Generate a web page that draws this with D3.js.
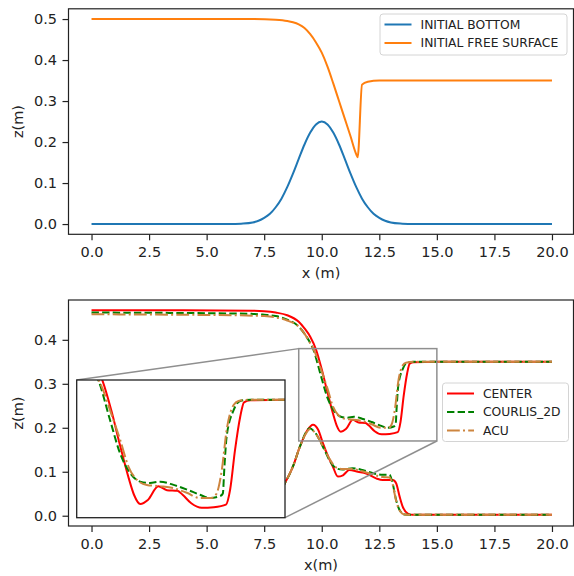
<!DOCTYPE html>
<html><head><meta charset="utf-8">
<script src="https://cdn.jsdelivr.net/npm/d3@7"></script>
<style>body{margin:0;background:#fff;} svg{display:block;font-family:"DejaVu Sans",sans-serif;}</style>
</head><body><svg id="c" width="574" height="576"></svg>
<script>
// ---------- data ----------
const xTicks = [0, 2.5, 5, 7.5, 10, 12.5, 15, 17.5, 20];
const topYTicks = [0, 0.1, 0.2, 0.3, 0.4, 0.5];
const bottomYTicks = [0, 0.1, 0.2, 0.3, 0.4];
const topSeriesNames = ["INITIAL BOTTOM", "INITIAL FREE SURFACE"];
const bottomSeriesNames = ["CENTER", "COURLIS_2D", "ACU"];
const zoomXRange = [9, 15];
const zoomZRange = [0.17, 0.38];

const initBedX = [0, 5, 6, 6.5, 7, 7.25, 7.5, 7.75, 8, 8.25, 8.5, 8.75, 9, 9.25, 9.5, 9.75, 10, 10.25, 10.5, 10.75, 11, 11.25, 11.5, 11.75, 12, 12.25, 12.5, 12.75, 13, 13.5, 14, 15, 20];
const initBedZ = [0, 0, 0, 0.001, 0.004, 0.008, 0.015, 0.025, 0.041, 0.062, 0.090, 0.123, 0.159, 0.194, 0.223, 0.243, 0.25, 0.243, 0.223, 0.194, 0.159, 0.123, 0.090, 0.062, 0.041, 0.025, 0.015, 0.008, 0.004, 0.001, 0, 0, 0];
const initSurfX = [0, 7, 8, 8.5, 8.75, 9, 9.25, 9.5, 9.75, 10, 10.25, 10.5, 10.75, 11, 11.25, 11.5, 11.56, 11.75, 12, 12.5, 20];
const initSurfZ = [0.5, 0.5, 0.498, 0.495, 0.492, 0.487, 0.478, 0.463, 0.443, 0.418, 0.384, 0.343, 0.3, 0.257, 0.214, 0.17, 0.163, 0.34, 0.347, 0.35, 0.35];

const centerSurfX = [0, 4, 7, 7.5, 8, 8.5, 9, 9.25, 9.5, 9.75, 10, 10.25, 10.5, 10.65, 10.83, 11.05, 11.35, 11.6, 11.9, 12.05, 12.3, 12.6, 12.95, 13.3, 13.42, 13.56, 13.71, 13.82, 14, 15, 20];
const centerSurfZ = [0.467, 0.467, 0.466, 0.465, 0.462, 0.456, 0.441, 0.426, 0.407, 0.378, 0.333, 0.28, 0.23, 0.205, 0.191, 0.197, 0.218, 0.212, 0.211, 0.205, 0.192, 0.185, 0.186, 0.19, 0.213, 0.273, 0.324, 0.346, 0.349, 0.35, 0.35];
const centerBedX = [0, 6.5, 7, 7.5, 8, 8.4, 8.75, 9.05, 9.38, 9.62, 9.85, 10.05, 10.3, 10.48, 10.7, 10.92, 11.2, 11.57, 11.93, 12.36, 12.65, 13.09, 13.23, 13.38, 13.52, 13.74, 13.95, 15, 20];
const centerBedZ = [0.002, 0.002, 0.006, 0.018, 0.04, 0.074, 0.112, 0.157, 0.195, 0.207, 0.195, 0.165, 0.132, 0.112, 0.089, 0.092, 0.104, 0.1, 0.096, 0.085, 0.081, 0.081, 0.074, 0.044, 0.02, 0.005, 0.002, 0.002, 0.002];

const courlisSurfX = [0, 4, 7, 7.5, 8, 8.5, 9, 9.25, 9.5, 9.62, 9.96, 10.25, 10.54, 10.83, 11.11, 11.4, 11.79, 12.17, 12.55, 12.84, 13.13, 13.21, 13.25, 13.32, 13.52, 13.71, 14, 15, 20];
const courlisSurfZ = [0.462, 0.461, 0.459, 0.457, 0.454, 0.446, 0.43, 0.414, 0.393, 0.38, 0.319, 0.268, 0.238, 0.225, 0.223, 0.225, 0.22, 0.213, 0.205, 0.2, 0.203, 0.207, 0.243, 0.294, 0.334, 0.348, 0.35, 0.35, 0.35];
const courlisBedX = [0, 6.5, 7, 7.5, 8, 8.4, 8.75, 9.05, 9.3, 9.47, 9.7, 10.05, 10.33, 10.62, 10.9, 11.34, 11.77, 12.2, 12.65, 12.94, 13.06, 13.23, 13.38, 13.6, 14, 20];
const courlisBedZ = [0.002, 0.002, 0.006, 0.018, 0.04, 0.074, 0.112, 0.157, 0.188, 0.199, 0.19, 0.157, 0.127, 0.108, 0.105, 0.108, 0.104, 0.097, 0.093, 0.093, 0.078, 0.036, 0.013, 0.003, 0.002, 0.002];

const acuSurfX = [0, 4, 7, 7.5, 8, 8.5, 9, 9.25, 9.5, 9.72, 9.96, 10.25, 10.49, 10.73, 11.02, 11.4, 11.79, 12.17, 12.55, 12.89, 13.03, 13.18, 13.32, 13.52, 13.66, 14, 15, 20];
const acuSurfZ = [0.458, 0.457, 0.455, 0.454, 0.451, 0.444, 0.43, 0.414, 0.392, 0.37, 0.334, 0.289, 0.248, 0.228, 0.22, 0.218, 0.215, 0.208, 0.2, 0.2, 0.207, 0.243, 0.304, 0.342, 0.348, 0.35, 0.35, 0.35];
const acuBedX = [0, 6.5, 7, 7.5, 8, 8.4, 8.75, 9.05, 9.3, 9.5, 9.72, 10.05, 10.33, 10.62, 10.9, 11.34, 11.77, 12.2, 12.65, 12.94, 13.06, 13.23, 13.38, 13.6, 14, 20];
const acuBedZ = [0.002, 0.002, 0.006, 0.018, 0.04, 0.074, 0.112, 0.157, 0.186, 0.197, 0.188, 0.158, 0.13, 0.11, 0.106, 0.106, 0.101, 0.094, 0.088, 0.087, 0.075, 0.034, 0.012, 0.003, 0.002, 0.002];

// ---------- styles ----------
const FONT = '"DejaVu Sans", sans-serif';
const TICK_FS = 14.5, LABEL_FS = 14.5, LEG_FS = 12.3;
const INK = "#222";
const topStyles = [
  {color: "#1f77b4", dash: null, width: 2},
  {color: "#ff7f0e", dash: null, width: 2}
];
const botStyles = [
  {color: "#ff0000", dash: null, width: 2},
  {color: "#008000", dash: "7.4,3.2", width: 2},
  {color: "#cd853f", dash: "12.8,3.2,2,3.2", width: 2}
];

const svg = d3.select("#c");
const zip = (xs, zs) => xs.map((x, i) => [x, zs[i]]);

function axesFrame(g, x, y, yTicks, box) {
  const fmt = d3.format(".1f");
  const ax = g.append("g").attr("transform", `translate(0,${box.bottom})`)
    .call(d3.axisBottom(x).tickValues(xTicks).tickFormat(fmt).tickSize(6).tickPadding(6.5).tickSizeOuter(0));
  const ay = g.append("g").attr("transform", `translate(${box.left},0)`)
    .call(d3.axisLeft(y).tickValues(yTicks).tickFormat(fmt).tickSize(6).tickPadding(5.5).tickSizeOuter(0));
  [ax, ay].forEach(a => {
    a.select(".domain").remove();
    a.selectAll("line").attr("stroke", INK).attr("stroke-width", 1.2);
    a.selectAll("text").attr("font-size", TICK_FS).attr("font-family", FONT).attr("fill", INK);
  });
}
function drawFrame(g, box, color, w) {
  g.append("rect").attr("x", box.left).attr("y", box.top)
    .attr("width", box.right - box.left).attr("height", box.bottom - box.top)
    .attr("fill", "none").attr("stroke", color).attr("stroke-width", w);
}
function drawLine(g, data, x, y, st, clip) {
  const line = d3.line().x(d => x(d[0])).y(d => y(d[1])).curve(d3.curveMonotoneX);
  const p = g.append("path").datum(data).attr("d", line).attr("fill", "none")
    .attr("stroke", st.color).attr("stroke-width", st.width)
    .attr("stroke-linejoin", "round");
  if (st.dash) p.attr("stroke-dasharray", st.dash);
  if (clip) p.attr("clip-path", `url(#${clip})`);
  return p;
}
function legend(g, box, names, styles) {
  g.append("rect").attr("x", box.x).attr("y", box.y).attr("width", box.w).attr("height", box.h)
    .attr("rx", 3).attr("fill", "#fff").attr("fill-opacity", 0.85)
    .attr("stroke", "#d4d4d4").attr("stroke-width", 1);
  names.forEach((n, i) => {
    const yy = box.y + box.first + i * box.step;
    const st = styles[i];
    const l = g.append("line").attr("x1", box.x + 4.5).attr("x2", box.x + 31.5)
      .attr("y1", yy).attr("y2", yy).attr("stroke", st.color).attr("stroke-width", st.width);
    if (st.dash) l.attr("stroke-dasharray", st.dash);
    g.append("text").attr("x", box.x + 40.5).attr("y", yy).attr("dy", "0.36em")
      .attr("font-size", LEG_FS).attr("font-family", FONT).attr("fill", INK).text(n);
  });
}

// ---------- top chart ----------
const topBox = {left: 68.5, right: 573.5, top: 8.8, bottom: 234.3};
const topX = d3.scaleLinear().domain([-1, 21]).range([68.5, 575]);
const topY = d3.scaleLinear().domain([-0.025, 0.525]).range([topBox.bottom, topBox.top]);
const gTop = svg.append("g");
drawLine(gTop, zip(initBedX, initBedZ), topX, topY, topStyles[0]);
drawLine(gTop, zip(initSurfX, initSurfZ), topX, topY, topStyles[1]);
axesFrame(gTop, topX, topY, topYTicks, topBox);
drawFrame(gTop, topBox, INK, 1.2);
legend(gTop, {x: 380, y: 14, w: 187, h: 41, first: 10.5, step: 18.5}, topSeriesNames, topStyles);
gTop.append("text").attr("x", 321).attr("y", 273).attr("dy", "0.36em").attr("text-anchor", "middle")
  .attr("font-size", LABEL_FS).attr("font-family", FONT).attr("fill", INK).text("x (m)");
gTop.append("text").attr("transform", `translate(17.5,${(topBox.top + topBox.bottom) / 2}) rotate(-90)`)
  .attr("dy", "0.36em").attr("text-anchor", "middle")
  .attr("font-size", LABEL_FS).attr("font-family", FONT).attr("fill", INK).text("z(m)");

// ---------- bottom chart ----------
const botBox = {left: 68.5, right: 573.5, top: 300, bottom: 526};
const botX = d3.scaleLinear().domain([-1, 21]).range([68.5, 575]);
const botY = d3.scaleLinear().domain([-0.02336, 0.49056]).range([botBox.bottom, botBox.top]);
const gBot = svg.append("g");
const finals = [
  [zip(centerSurfX, centerSurfZ), zip(centerBedX, centerBedZ)],
  [zip(courlisSurfX, courlisSurfZ), zip(courlisBedX, courlisBedZ)],
  [zip(acuSurfX, acuSurfZ), zip(acuBedX, acuBedZ)]
];
finals.forEach((f, i) => { f.forEach(d => drawLine(gBot, d, botX, botY, botStyles[i])); });

// zoom rectangle and connectors
const inBox = {left: 76.7, right: 285, top: 380, bottom: 517.7};
const inX = d3.scaleLinear().domain(zoomXRange).range([inBox.left, inBox.right]);
const inY = d3.scaleLinear().domain(zoomZRange).range([inBox.bottom, inBox.top]);
const GR = "#8f8f8f";
gBot.append("rect").attr("x", botX(zoomXRange[0])).attr("y", botY(zoomZRange[1]))
  .attr("width", botX(zoomXRange[1]) - botX(zoomXRange[0]))
  .attr("height", botY(zoomZRange[0]) - botY(zoomZRange[1]))
  .attr("fill", "none").attr("stroke", GR).attr("stroke-width", 1.5);
gBot.append("line").attr("x1", inBox.left).attr("y1", inBox.top)
  .attr("x2", botX(zoomXRange[0])).attr("y2", botY(zoomZRange[1])).attr("stroke", GR).attr("stroke-width", 1.5);
gBot.append("line").attr("x1", inBox.right).attr("y1", inBox.bottom)
  .attr("x2", botX(zoomXRange[1])).attr("y2", botY(zoomZRange[0])).attr("stroke", GR).attr("stroke-width", 1.5);

axesFrame(gBot, botX, botY, bottomYTicks, botBox);
drawFrame(gBot, botBox, INK, 1.2);

// inset
const gIn = svg.append("g");
svg.append("defs").append("clipPath").attr("id", "inclip").append("rect")
  .attr("x", inBox.left).attr("y", inBox.top).attr("width", inBox.right - inBox.left).attr("height", inBox.bottom - inBox.top);
gIn.append("rect").attr("x", inBox.left).attr("y", inBox.top)
  .attr("width", inBox.right - inBox.left).attr("height", inBox.bottom - inBox.top).attr("fill", "#fff");
finals.forEach((f, i) => drawLine(gIn, f[0], inX, inY, botStyles[i], "inclip"));
drawFrame(gIn, inBox, INK, 1.3);

legend(svg.append("g"), {x: 442.5, y: 383, w: 126, h: 58.5, first: 10.5, step: 18.5}, bottomSeriesNames, botStyles);
gBot.append("text").attr("x", 321).attr("y", 565).attr("dy", "0.36em").attr("text-anchor", "middle")
  .attr("font-size", LABEL_FS).attr("font-family", FONT).attr("fill", INK).text("x(m)");
gBot.append("text").attr("transform", `translate(17.5,${(botBox.top + botBox.bottom) / 2}) rotate(-90)`)
  .attr("dy", "0.36em").attr("text-anchor", "middle")
  .attr("font-size", LABEL_FS).attr("font-family", FONT).attr("fill", INK).text("z(m)");
</script></body></html>
